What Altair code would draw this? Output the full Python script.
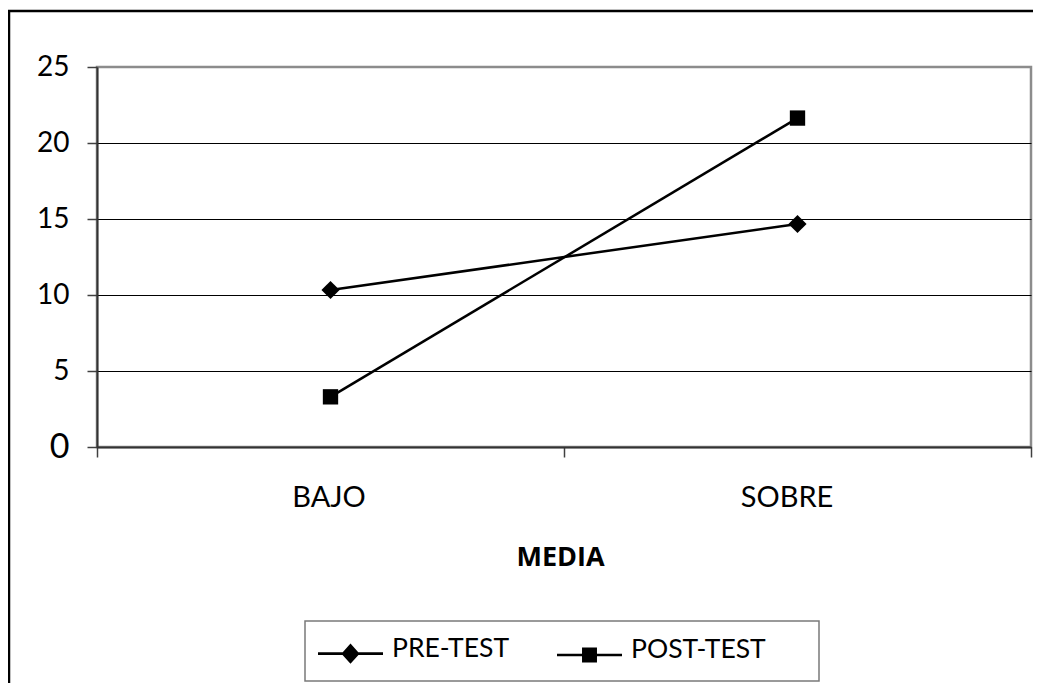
import altair as alt
import pandas as pd

categories = ["BAJO", "SOBRE"]
series_names = ["PRE-TEST", "POST-TEST"]
pre_test = [10.33, 14.67]
post_test = [3.3, 21.64]
y_ticks = [0, 5, 10, 15, 20, 25]

rows = []
for s, vals in zip(series_names, [pre_test, post_test]):
    for c, v in zip(categories, vals):
        rows.append({"category": c, "series": s, "value": v})
df = pd.DataFrame(rows)

FONT = "Lato"

x_enc = alt.X(
    "category:N",
    sort=categories,
    scale=alt.Scale(type="band", paddingInner=0, paddingOuter=0),
    axis=alt.Axis(
        title="MEDIA",
        titleFont="Open Sans",
        titleFontWeight="bold",
        titleFontSize=27,
        titleColor="black",
        titlePadding=32,
        titleX=463,
        labelFont=FONT,
        labelFontSize=29,
        labelColor="black",
        labelPadding=26,
        labelOffset=alt.condition("datum.value === 'SOBRE'", alt.value(-11), alt.value(-2)),
        labelAngle=0,
        tickBand="extent",
        tickSize=10,
        tickColor="#404040",
        tickWidth=1.5,
        domainColor="#333333",
        domainWidth=2,
        grid=False,
    ),
)
y_enc = alt.Y(
    "value:Q",
    scale=alt.Scale(domain=[0, 25], nice=False),
    axis=alt.Axis(
        title=None,
        values=y_ticks,
        labelFont=FONT,
        labelFontSize=alt.condition("datum.value === 0", alt.value(34), alt.value(28)),
        labelColor="black",
        labelPadding=18,
        tickSize=10,
        tickColor="#404040",
        tickWidth=1.5,
        domainColor="#333333",
        domainWidth=2,
        grid=True,
        gridColor=alt.condition("datum.value === 25", alt.value("#8c8c8c"), alt.value("black")),
        gridWidth=1.2,
    ),
)

base = alt.Chart(df)

lines = base.mark_line(color="black", strokeWidth=2.5).encode(
    x=x_enc, y=y_enc, detail="series:N"
)

pre_pts = base.transform_filter(alt.datum.series == "PRE-TEST").mark_point(
    shape="diamond", filled=True, color="black", size=330, opacity=1
).encode(x="category:N", y="value:Q")

post_pts = base.transform_filter(alt.datum.series == "POST-TEST").mark_point(
    shape="square", filled=True, color="black", size=235, opacity=1
).encode(x="category:N", y="value:Q")

# legend glyphs: thin bar (the line) + marker, in unit coordinates
legend_paths = [
    "M-1,0.11L1,0.11L1,0.19L-1,0.19ZM0,-0.16L0.28,0.15L0,0.46L-0.28,0.15Z",
    "M-1,0.11L1,0.11L1,0.19L-1,0.19ZM-0.23,-0.08L0.23,-0.08L0.23,0.38L-0.23,0.38Z",
]

legend_layer = base.transform_filter("false").mark_point(
    filled=True, fill="black", size=4225, opacity=1
).encode(
    shape=alt.Shape(
        "series:N",
        scale=alt.Scale(domain=series_names, range=legend_paths),
        legend=alt.Legend(
            title=None,
            orient="none",
            direction="horizontal",
            legendX=220,
            legendY=548,
            padding=0,
            columnPadding=44,
            labelOffset=8,
            labelFont=FONT,
            labelFontSize=26.5,
            labelColor="black",
            symbolSize=4225,
            symbolFillColor="black",
            symbolOpacity=1,
        ),
    )
)

frame_data = alt.Data(values=[{}])
outer_border = alt.Chart(frame_data).mark_rect(
    fillOpacity=0, stroke="black", strokeWidth=2.5
).encode(
    x=alt.value(-88), x2=alt.value(1000), y=alt.value(-56), y2=alt.value(700)
)
legend_box = alt.Chart(frame_data).mark_rect(
    fillOpacity=0, stroke="#7a7a7a", strokeWidth=1.5
).encode(
    x=alt.value(208), x2=alt.value(722), y=alt.value(554), y2=alt.value(614)
)

chart = alt.layer(lines, pre_pts, post_pts, legend_layer, outer_border, legend_box).properties(
    width=934,
    height=380,
    autosize=alt.AutoSizeParams(type="none"),
    padding={"left": 89, "top": 59, "right": 2, "bottom": 236},
    background="white",
).configure_view(
    stroke="#8c8c8c", strokeWidth=2.5
)

chart.save("out.html", embed_options={"renderer": "svg", "actions": False})
